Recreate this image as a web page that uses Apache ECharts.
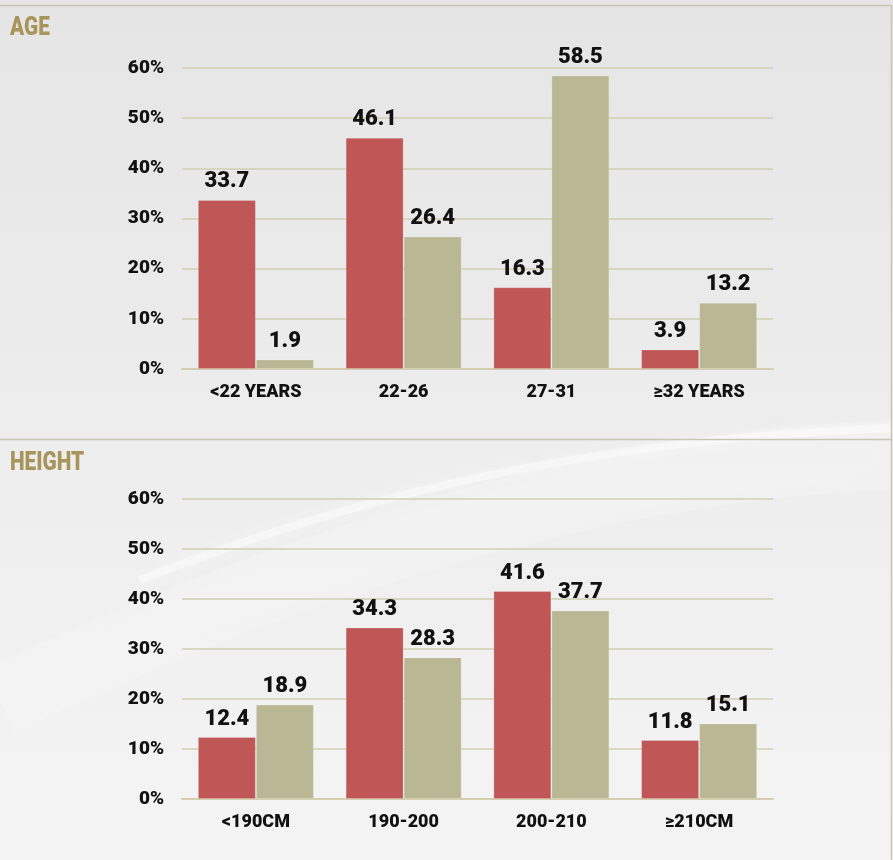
<!DOCTYPE html>
<html>
<head>
<meta charset="utf-8">
<title>Age and height distribution</title>
<script src="https://cdn.jsdelivr.net/npm/echarts@6/dist/echarts.min.js"></script>
<style>
  html, body { margin: 0; padding: 0; background: #ececec; }
  #chart { width: 893px; height: 860px; }
</style>
</head>
<body>
<div id="chart"></div>
<script>
// Age groups
const ageCategories = ['<22 YEARS', '22-26', '27-31', '≥32 YEARS'];
const ageRed = [33.7, 46.1, 16.3, 3.9];
const ageTan = [1.9, 26.4, 58.5, 13.2];

// Height groups
const heightCategories = ['<190CM', '190-200', '200-210', '≥210CM'];
const heightRed = [12.4, 34.3, 41.6, 11.8];
const heightTan = [18.9, 28.3, 37.7, 15.1];

// Shared percentage scale
const yMin = 0;
const yMax = 60;
const yStep = 10;

const FONT = 'Roboto, "Noto Sans", sans-serif';
const WEIGHT = 900;
const RED = '#c05757';
const TAN = '#bab794';
const GRID_LINE = '#d3cfb0';
const TITLE = '#a8955c';

const chart = echarts.init(document.getElementById('chart'), null, { renderer: 'canvas' });

function valueAxis(gridIndex) {
  return {
    type: 'value', gridIndex, min: yMin, max: yMax, interval: yStep,
    axisLabel: {
      formatter: v => v + '%', color: '#111', fontFamily: FONT,
      fontWeight: WEIGHT, fontSize: 19, margin: 18
    },
    axisLine: { show: false }, axisTick: { show: false },
    splitLine: { lineStyle: { color: GRID_LINE, width: 1.5 } }
  };
}

function categoryAxis(gridIndex, data) {
  return {
    type: 'category', gridIndex, data,
    axisLabel: { color: '#111', fontFamily: FONT, fontWeight: WEIGHT, fontSize: 18, margin: 14 },
    axisLine: { lineStyle: { color: GRID_LINE, width: 2 } },
    axisTick: { show: false }
  };
}

function barSeries(name, data, color, idx) {
  return {
    name, type: 'bar', data, xAxisIndex: idx, yAxisIndex: idx,
    barWidth: 58, barGap: '0%',
    itemStyle: { color, borderColor: 'rgba(255,255,255,0.2)', borderWidth: 1 },
    label: {
      show: true, position: 'top', distance: 7,
      color: '#111', fontFamily: FONT, fontWeight: WEIGHT, fontSize: 22,
      formatter: p => p.value.toFixed(1)
    }
  };
}

// Narrowed section heading
function heading(text, top) {
  return {
    type: 'text', left: 10, top, scaleX: 0.8, originX: 10, originY: top,
    style: { text, fill: TITLE, font: WEIGHT + ' 26px ' + FONT }
  };
}

chart.setOption({
  animation: false,
  backgroundColor: {
    type: 'linear', x: 0, y: 0, x2: 0, y2: 1,
    colorStops: [
      { offset: 0, color: '#e5e5e5' },
      { offset: 0.5, color: '#ededed' },
      { offset: 1, color: '#f4f4f4' }
    ]
  },
  graphic: [
    // soft light swoosh across the middle
    {
      type: 'bezierCurve', z: -10, silent: true,
      shape: { x1: 0, y1: 700, x2: 893, y2: 455, cpx1: 300, cpy1: 560, cpx2: 600, cpy2: 465 },
      style: { stroke: 'rgba(255,255,255,0.18)', lineWidth: 70, fill: null, shadowBlur: 50, shadowColor: 'rgba(255,255,255,0.5)' }
    },
    {
      type: 'bezierCurve', z: -9, silent: true,
      shape: { x1: 140, y1: 580, x2: 893, y2: 428, cpx1: 380, cpy1: 485, cpx2: 620, cpy2: 438 },
      style: { stroke: 'rgba(255,255,255,0.45)', lineWidth: 8, fill: null, shadowBlur: 16, shadowColor: 'rgba(255,255,255,0.9)' }
    },
    // panel frame
    { type: 'line', silent: true, shape: { x1: 0, y1: 5.5, x2: 891.5, y2: 5.5 }, style: { stroke: '#c8c4b6', lineWidth: 1.5 } },
    { type: 'line', silent: true, shape: { x1: 891.5, y1: 5, x2: 891.5, y2: 860 }, style: { stroke: '#c8c4b6', lineWidth: 1.5 } },
    { type: 'line', silent: true, shape: { x1: 0, y1: 439.5, x2: 891.5, y2: 439.5 }, style: { stroke: '#c8c4b6', lineWidth: 1.5 } },
    // section headings
    heading('AGE', 15),
    heading('HEIGHT', 450)
  ],
  grid: [
    { left: 182, right: 120, top: 68, height: 301 },
    { left: 182, right: 120, top: 499, height: 300 }
  ],
  xAxis: [categoryAxis(0, ageCategories), categoryAxis(1, heightCategories)],
  yAxis: [valueAxis(0), valueAxis(1)],
  series: [
    barSeries('Age A', ageRed, RED, 0),
    barSeries('Age B', ageTan, TAN, 0),
    barSeries('Height A', heightRed, RED, 1),
    barSeries('Height B', heightTan, TAN, 1)
  ]
});
</script>
</body>
</html>
